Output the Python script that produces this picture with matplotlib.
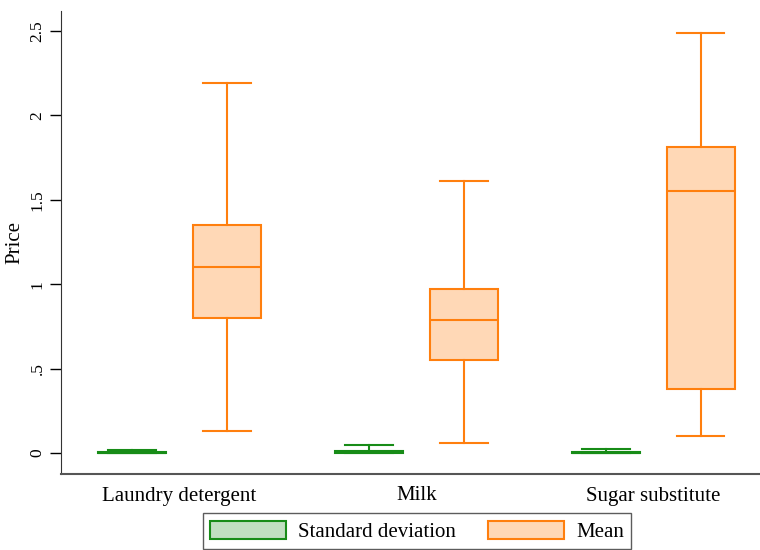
import numpy as np
import matplotlib
matplotlib.use("Agg")
import matplotlib.pyplot as plt
from matplotlib.patches import Patch

plt.rcParams['font.family'] = ['Liberation Serif', 'DejaVu Serif']
plt.rcParams['font.size'] = 15

categories = ["Laundry detergent", "Milk", "Sugar substitute"]

# five-number summaries: low whisker, q1, median, q3, high whisker
sd_low = [0.0, 0.0, 0.0]
sd_q1 = [0.0005, 0.002, 0.001]
sd_med = [0.002, 0.008, 0.003]
sd_q3 = [0.005, 0.015, 0.006]
sd_high = [0.018, 0.047, 0.026]

mean_low = [0.13, 0.06, 0.10]
mean_q1 = [0.80, 0.55, 0.38]
mean_med = [1.10, 0.79, 1.55]
mean_q3 = [1.35, 0.97, 1.81]
mean_high = [2.19, 1.61, 2.49]

yticks = [0, 0.5, 1, 1.5, 2, 2.5]
ytick_labels = ["0", ".5", "1", "1.5", "2", "2.5"]

green = '#178c17'
orange = '#ff7f0e'


def make_stats(lo, q1, med, q3, hi):
    return [dict(whislo=a, q1=b, med=c, q3=d, whishi=e, fliers=[])
            for a, b, c, d, e in zip(lo, q1, med, q3, hi)]


def draw_boxes(ax, stats, pos, color, alpha):
    ax.bxp(stats, positions=pos, widths=0.287, capwidths=0.2,
           patch_artist=True, showfliers=False,
           boxprops=dict(facecolor=matplotlib.colors.to_rgba(color, alpha),
                         edgecolor=color, linewidth=1.5),
           medianprops=dict(color=color, linewidth=1.5),
           whiskerprops=dict(color=color, linewidth=1.5),
           capprops=dict(color=color, linewidth=1.5))


fig = plt.figure(figsize=(7.6, 5.5), dpi=100)
ax = fig.add_axes([61 / 760, 76 / 550, 1 - 61 / 760, (474 - 11) / 550])

x = np.arange(len(categories))
draw_boxes(ax, make_stats(sd_low, sd_q1, sd_med, sd_q3, sd_high), x - 0.2, green, 0.27)
draw_boxes(ax, make_stats(mean_low, mean_q1, mean_med, mean_q3, mean_high), x + 0.2, orange, 0.3)

ax.set_xlim(-0.5, 2.45)
ax.set_ylim(-0.124, 2.618)
ax.set_xticks(x)
ax.set_xticklabels(categories, fontsize=15)
ax.tick_params(axis='x', length=0, pad=9)
ax.set_yticks(yticks)
ax.set_yticklabels(ytick_labels, rotation=90, va='center', fontsize=12.5)
ax.tick_params(axis='y', length=8, width=1, pad=3)
ax.set_ylabel("Price", fontsize=15)
ax.yaxis.set_label_coords((24 - 61) / 699, 0.5)

for s in ['top', 'right']:
    ax.spines[s].set_visible(False)
ax.spines['left'].set_color('#333333')
ax.spines['bottom'].set_color('#555555')
ax.spines['bottom'].set_linewidth(1.5)

handles = [Patch(facecolor=matplotlib.colors.to_rgba(green, 0.27), edgecolor=green, linewidth=1.5),
           Patch(facecolor=matplotlib.colors.to_rgba(orange, 0.3), edgecolor=orange, linewidth=1.5)]
leg = fig.legend(handles, ["Standard deviation", "Mean"], loc='lower center',
                 bbox_to_anchor=(417 / 760, 1 / 550), ncol=2, fontsize=15,
                 handlelength=3.65, handleheight=0.95, handletextpad=0.6,
                 columnspacing=1.5, fancybox=False, borderpad=0.35,
                 borderaxespad=0)
leg.get_frame().set_edgecolor('#333333')
leg.get_frame().set_linewidth(1.0)

fig.savefig("out.png", dpi=100)
